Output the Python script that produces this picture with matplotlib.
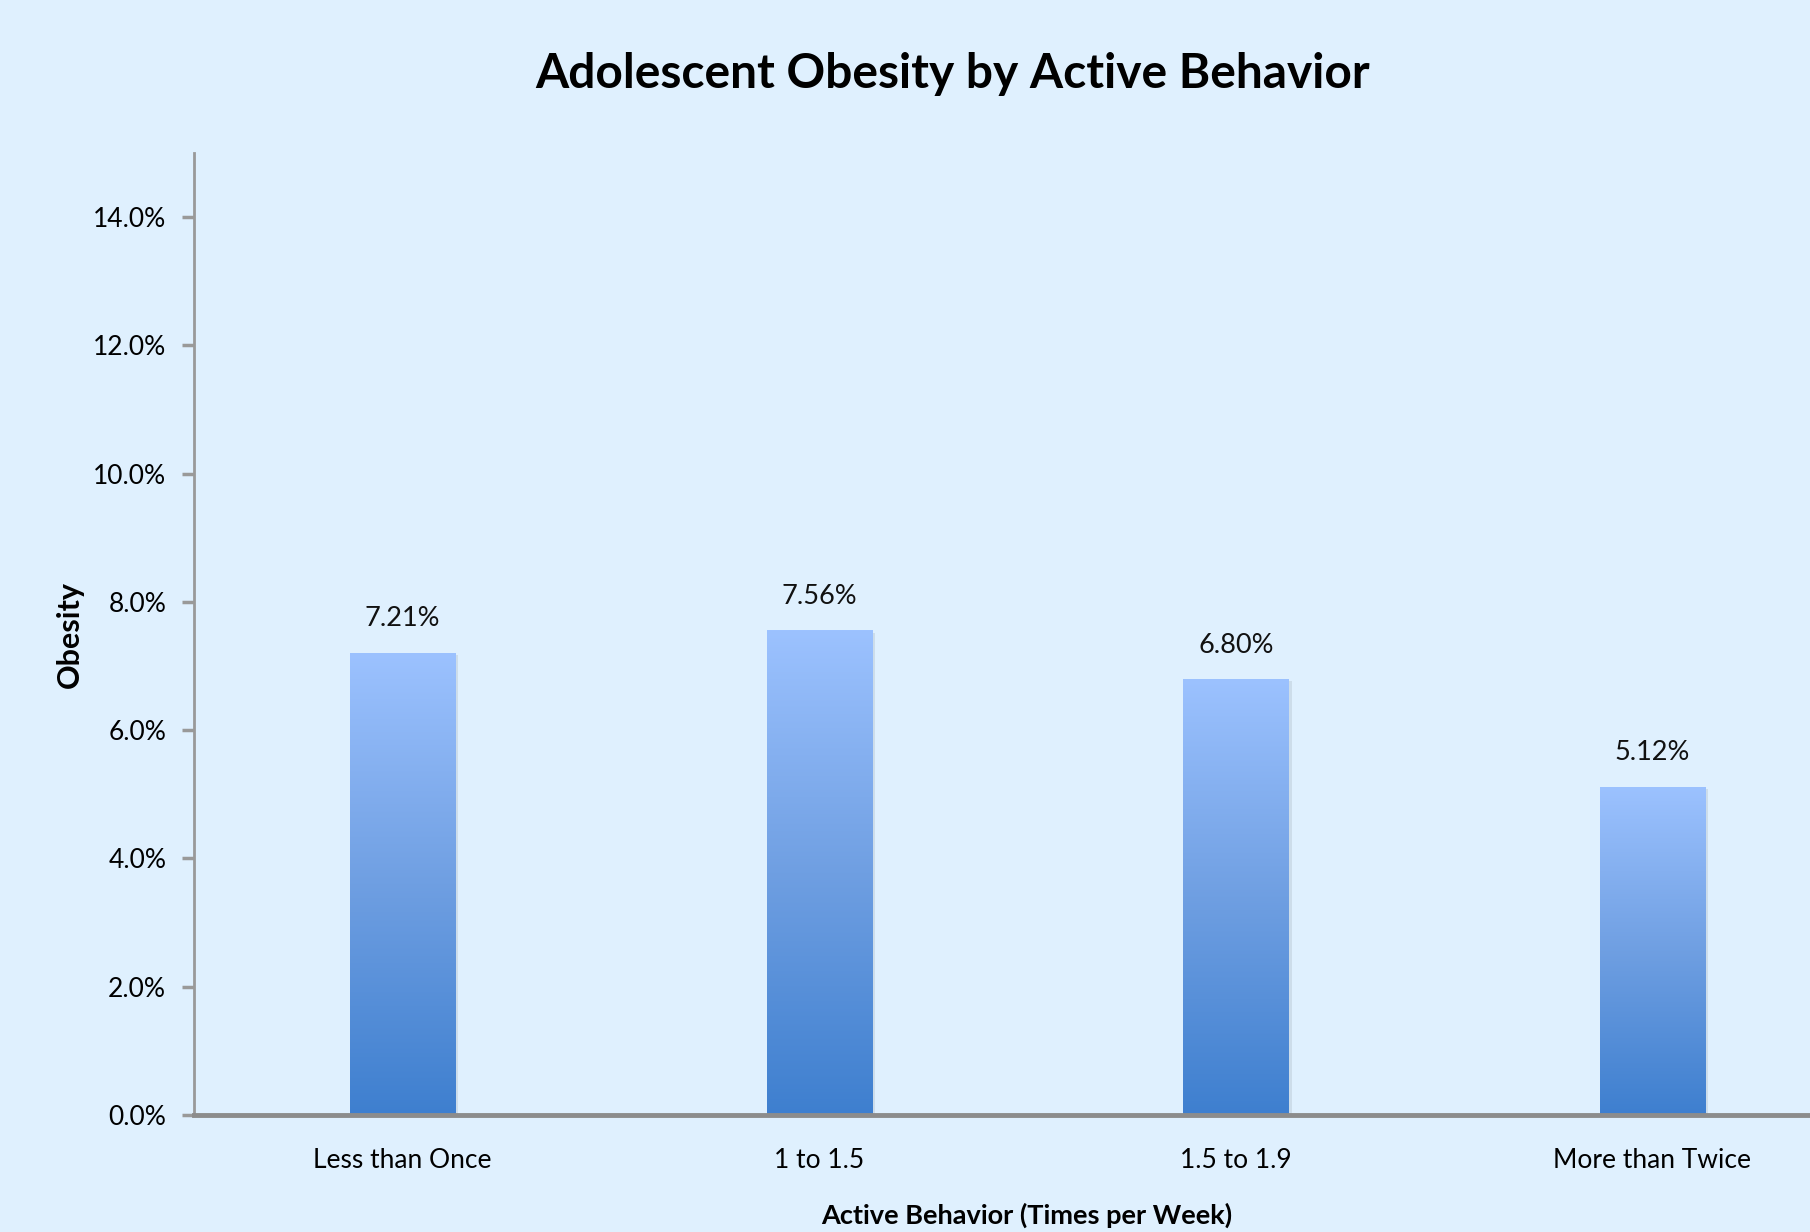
import numpy as np
import matplotlib.pyplot as plt
from matplotlib.colors import LinearSegmentedColormap

# data
categories = ["Less than Once", "1 to 1.5", "1.5 to 1.9", "More than Twice"]
obesity = [7.21, 7.56, 6.80, 5.12]  # percent
yticks = [0, 2, 4, 6, 8, 10, 12, 14]

bg = "#dff0fe"
plt.rcParams["font.family"] = ["Lato", "DejaVu Sans"]

fig = plt.figure(figsize=(18.10, 12.32), dpi=100, facecolor=bg)
ax = fig.add_axes([194 / 1810, 1 - 1115 / 1232, 1 - 194 / 1810, (1115 - 153) / 1232])
ax.set_facecolor(bg)

x = np.arange(len(categories))
bars = ax.bar(x, obesity, width=0.252, color="none", edgecolor="none", zorder=3)

grad = LinearSegmentedColormap.from_list("g", ["#3e7fcf", "#6f9fe2", "#9cc2ff"])
img = np.linspace(0, 1, 256).reshape(-1, 1)
for b in bars:
    x0, w, h = b.get_x(), b.get_width(), b.get_height()
    # soft shadow
    ax.bar(x0 + w / 2 + 0.008, h, width=w, bottom=-0.04, color="#000000",
           alpha=0.08, zorder=2)
    im = ax.imshow(img, cmap=grad, origin="lower", aspect="auto",
                   extent=[x0, x0 + w, 0, h], zorder=4)
    im.set_clip_path(b)
    ax.text(x0 + w / 2, h + 0.33, f"{h:.2f}%", ha="center", va="bottom",
            fontsize=19.5, color="#111111")

ax.set_xlim(-0.5, 3.378)
ax.set_ylim(0, 15)
ax.set_yticks(yticks)
ax.set_yticklabels([f"{v:.1f}%" for v in yticks], fontsize=19)
ax.set_xticks(x)
ax.set_xticklabels(categories, fontsize=19)
ax.tick_params(axis="x", length=0, pad=24)
ax.tick_params(axis="y", length=9, width=2.5, color="#999999", pad=11, direction="out")

for s in ["top", "right"]:
    ax.spines[s].set_visible(False)
ax.spines["left"].set_color("#999999")
ax.spines["left"].set_linewidth(2)
ax.spines["bottom"].set_color("#8c8c8c")
ax.spines["bottom"].set_linewidth(3.5)
ax.spines["bottom"].set_zorder(5)

fig.text(953 / 1810, 1 - 74 / 1232, "Adolescent Obesity by Active Behavior",
         ha="center", va="center", fontsize=34.5, fontweight="bold")
fig.text(70 / 1810, 1 - 635 / 1232, "Obesity", rotation=90, ha="center",
         va="center", fontsize=22, fontweight="bold")
fig.text(1027 / 1810, 1 - 1215 / 1232, "Active Behavior (Times per Week)",
         ha="center", va="center", fontsize=19.5, fontweight="bold")

fig.savefig("out.png", dpi=100, facecolor=bg)
